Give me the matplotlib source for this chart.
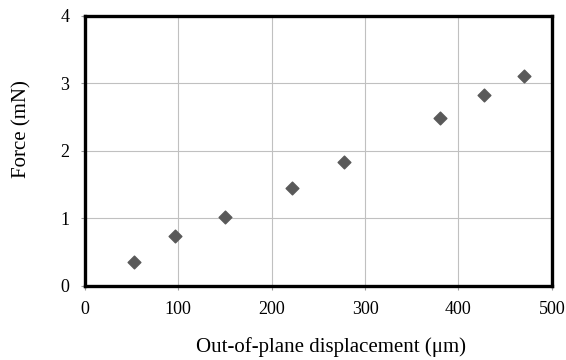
import matplotlib
matplotlib.use("Agg")
import matplotlib.pyplot as plt

plt.rcParams['font.family'] = ['Liberation Serif', 'DejaVu Serif']

displacement = [53, 97, 150, 222, 277, 380, 427, 470]
force = [0.35, 0.74, 1.02, 1.45, 1.83, 2.49, 2.82, 3.11]

fig = plt.figure(figsize=(5.66, 3.6), dpi=100)
ax = fig.add_axes([0.150, 0.206, 0.825, 0.750])

ax.scatter(displacement, force, marker='D', s=42, color='#595959', zorder=3)

ax.set_xlim(0, 500)
ax.set_ylim(0, 4)
ax.set_xticks(range(0, 501, 100))
ax.set_yticks(range(0, 5))
ax.grid(True, color='#c0c0c0', linewidth=0.8)
ax.set_axisbelow(True)
for sp in ax.spines.values():
    sp.set_linewidth(2.4)
    sp.set_color('black')
ax.tick_params(direction='out', length=3, width=0.8, color='#999999', labelsize=13, pad=8)

ax.set_xlabel('Out-of-plane displacement (μm)', fontsize=15)
ax.set_ylabel('Force (mN)', fontsize=15)
ax.xaxis.label.set_va('center')
ax.yaxis.label.set_va('center')
ax.xaxis.set_label_coords(0.527, -0.226)
ax.yaxis.set_label_coords(-0.135, 0.581)

fig.savefig('out.png', dpi=100)
plt.close(fig)
